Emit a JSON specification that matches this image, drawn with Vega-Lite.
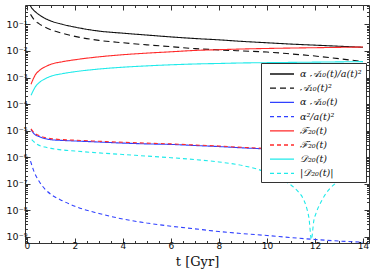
{
  "$schema": "https://vega.github.io/schema/vega-lite/v6.json",
  "width": 344,
  "height": 238,
  "autosize": {"type": "none"},
  "padding": {"left": 25, "top": 5, "right": 5, "bottom": 33},
  "config": {
    "view": {"stroke": "#333333", "strokeWidth": 1},
    "axis": {"grid": false, "domain": false, "tickColor": "#333333", "labelFont": "DejaVu Sans", "labelFontSize": 9, "labelColor": "#111111"},
    "legend": {
      "title": null,
      "fillColor": "white",
      "strokeColor": "#333333",
      "padding": 4,
      "symbolType": "M-2,0H2",
      "symbolSize": 144,
      "symbolOffset": 10,
      "labelOffset": 11,
      "symbolStrokeWidth": 1.3,
      "labelFont": "DejaVu Serif",
      "labelFontSize": 9.6,
      "labelFontStyle": "italic",
      "labelColor": "#111111",
      "rowPadding": 2.2
    }
  },
  "data": {"values": [
    {"t": 0.1, "v": 6.03e-1, "s": "α 𝒜₁₀(t)/a(t)²"},
    {"t": 0.2, "v": 4.17e-1, "s": "α 𝒜₁₀(t)/a(t)²"},
    {"t": 0.3, "v": 3.31e-1, "s": "α 𝒜₁₀(t)/a(t)²"},
    {"t": 0.5, "v": 2.34e-1, "s": "α 𝒜₁₀(t)/a(t)²"},
    {"t": 0.75, "v": 1.70e-1, "s": "α 𝒜₁₀(t)/a(t)²"},
    {"t": 1, "v": 1.35e-1, "s": "α 𝒜₁₀(t)/a(t)²"},
    {"t": 1.5, "v": 1.0e-1, "s": "α 𝒜₁₀(t)/a(t)²"},
    {"t": 2, "v": 7.94e-2, "s": "α 𝒜₁₀(t)/a(t)²"},
    {"t": 3, "v": 5.62e-2, "s": "α 𝒜₁₀(t)/a(t)²"},
    {"t": 4, "v": 4.68e-2, "s": "α 𝒜₁₀(t)/a(t)²"},
    {"t": 5, "v": 3.98e-2, "s": "α 𝒜₁₀(t)/a(t)²"},
    {"t": 6, "v": 3.39e-2, "s": "α 𝒜₁₀(t)/a(t)²"},
    {"t": 7, "v": 2.95e-2, "s": "α 𝒜₁₀(t)/a(t)²"},
    {"t": 8, "v": 2.63e-2, "s": "α 𝒜₁₀(t)/a(t)²"},
    {"t": 9, "v": 2.29e-2, "s": "α 𝒜₁₀(t)/a(t)²"},
    {"t": 10, "v": 2.04e-2, "s": "α 𝒜₁₀(t)/a(t)²"},
    {"t": 11, "v": 1.82e-2, "s": "α 𝒜₁₀(t)/a(t)²"},
    {"t": 12, "v": 1.66e-2, "s": "α 𝒜₁₀(t)/a(t)²"},
    {"t": 13, "v": 1.51e-2, "s": "α 𝒜₁₀(t)/a(t)²"},
    {"t": 14, "v": 1.38e-2, "s": "α 𝒜₁₀(t)/a(t)²"},

    {"t": 0.15, "v": 2.40e-1, "s": "𝒜̇₁₀(t)²"},
    {"t": 0.3, "v": 1.51e-1, "s": "𝒜̇₁₀(t)²"},
    {"t": 0.5, "v": 1.07e-1, "s": "𝒜̇₁₀(t)²"},
    {"t": 0.75, "v": 7.94e-2, "s": "𝒜̇₁₀(t)²"},
    {"t": 1, "v": 6.31e-2, "s": "𝒜̇₁₀(t)²"},
    {"t": 1.5, "v": 4.57e-2, "s": "𝒜̇₁₀(t)²"},
    {"t": 2, "v": 3.55e-2, "s": "𝒜̇₁₀(t)²"},
    {"t": 3, "v": 2.51e-2, "s": "𝒜̇₁₀(t)²"},
    {"t": 4, "v": 2.04e-2, "s": "𝒜̇₁₀(t)²"},
    {"t": 5, "v": 1.70e-2, "s": "𝒜̇₁₀(t)²"},
    {"t": 6, "v": 1.45e-2, "s": "𝒜̇₁₀(t)²"},
    {"t": 7, "v": 1.23e-2, "s": "𝒜̇₁₀(t)²"},
    {"t": 8, "v": 1.10e-2, "s": "𝒜̇₁₀(t)²"},
    {"t": 9, "v": 1.0e-2, "s": "𝒜̇₁₀(t)²"},
    {"t": 10, "v": 9.12e-3, "s": "𝒜̇₁₀(t)²"},
    {"t": 11, "v": 7.76e-3, "s": "𝒜̇₁₀(t)²"},
    {"t": 12, "v": 6.46e-3, "s": "𝒜̇₁₀(t)²"},
    {"t": 13, "v": 5.13e-3, "s": "𝒜̇₁₀(t)²"},
    {"t": 14, "v": 3.98e-3, "s": "𝒜̇₁₀(t)²"},

    {"t": 0.17, "v": 1.10e-5, "s": "α 𝒜̇₁₀(t)"},
    {"t": 0.3, "v": 7.59e-6, "s": "α 𝒜̇₁₀(t)"},
    {"t": 0.5, "v": 6.03e-6, "s": "α 𝒜̇₁₀(t)"},
    {"t": 0.75, "v": 5.01e-6, "s": "α 𝒜̇₁₀(t)"},
    {"t": 1, "v": 4.57e-6, "s": "α 𝒜̇₁₀(t)"},
    {"t": 1.5, "v": 4.27e-6, "s": "α 𝒜̇₁₀(t)"},
    {"t": 2, "v": 4.07e-6, "s": "α 𝒜̇₁₀(t)"},
    {"t": 3, "v": 3.72e-6, "s": "α 𝒜̇₁₀(t)"},
    {"t": 4, "v": 3.39e-6, "s": "α 𝒜̇₁₀(t)"},
    {"t": 5, "v": 3.16e-6, "s": "α 𝒜̇₁₀(t)"},
    {"t": 6, "v": 3.02e-6, "s": "α 𝒜̇₁₀(t)"},
    {"t": 7, "v": 2.75e-6, "s": "α 𝒜̇₁₀(t)"},
    {"t": 8, "v": 2.51e-6, "s": "α 𝒜̇₁₀(t)"},
    {"t": 9, "v": 2.24e-6, "s": "α 𝒜̇₁₀(t)"},
    {"t": 10, "v": 2.04e-6, "s": "α 𝒜̇₁₀(t)"},
    {"t": 11, "v": 1.86e-6, "s": "α 𝒜̇₁₀(t)"},
    {"t": 12, "v": 1.70e-6, "s": "α 𝒜̇₁₀(t)"},
    {"t": 13, "v": 1.55e-6, "s": "α 𝒜̇₁₀(t)"},
    {"t": 14, "v": 1.41e-6, "s": "α 𝒜̇₁₀(t)"},

    {"t": 0.15, "v": 7.08e-7, "s": "α²/a(t)²"},
    {"t": 0.3, "v": 2.82e-7, "s": "α²/a(t)²"},
    {"t": 0.5, "v": 1.26e-7, "s": "α²/a(t)²"},
    {"t": 0.75, "v": 6.31e-8, "s": "α²/a(t)²"},
    {"t": 1, "v": 3.98e-8, "s": "α²/a(t)²"},
    {"t": 1.5, "v": 2.24e-8, "s": "α²/a(t)²"},
    {"t": 2, "v": 1.41e-8, "s": "α²/a(t)²"},
    {"t": 3, "v": 7.59e-9, "s": "α²/a(t)²"},
    {"t": 4, "v": 4.68e-9, "s": "α²/a(t)²"},
    {"t": 5, "v": 3.31e-9, "s": "α²/a(t)²"},
    {"t": 6, "v": 2.51e-9, "s": "α²/a(t)²"},
    {"t": 7, "v": 2.0e-9, "s": "α²/a(t)²"},
    {"t": 8, "v": 1.58e-9, "s": "α²/a(t)²"},
    {"t": 9, "v": 1.32e-9, "s": "α²/a(t)²"},
    {"t": 10, "v": 1.12e-9, "s": "α²/a(t)²"},
    {"t": 11, "v": 9.33e-10, "s": "α²/a(t)²"},
    {"t": 12, "v": 7.94e-10, "s": "α²/a(t)²"},
    {"t": 13, "v": 6.92e-10, "s": "α²/a(t)²"},
    {"t": 14, "v": 6.31e-10, "s": "α²/a(t)²"},

    {"t": 0.17, "v": 5.62e-4, "s": "ℱ₂₀(t)"},
    {"t": 0.25, "v": 8.32e-4, "s": "ℱ₂₀(t)"},
    {"t": 0.35, "v": 1.26e-3, "s": "ℱ₂₀(t)"},
    {"t": 0.5, "v": 1.78e-3, "s": "ℱ₂₀(t)"},
    {"t": 0.75, "v": 2.51e-3, "s": "ℱ₂₀(t)"},
    {"t": 1, "v": 3.16e-3, "s": "ℱ₂₀(t)"},
    {"t": 1.5, "v": 3.98e-3, "s": "ℱ₂₀(t)"},
    {"t": 2, "v": 4.68e-3, "s": "ℱ₂₀(t)"},
    {"t": 3, "v": 6.03e-3, "s": "ℱ₂₀(t)"},
    {"t": 4, "v": 7.24e-3, "s": "ℱ₂₀(t)"},
    {"t": 5, "v": 8.32e-3, "s": "ℱ₂₀(t)"},
    {"t": 6, "v": 9.33e-3, "s": "ℱ₂₀(t)"},
    {"t": 7, "v": 1.05e-2, "s": "ℱ₂₀(t)"},
    {"t": 8, "v": 1.12e-2, "s": "ℱ₂₀(t)"},
    {"t": 9, "v": 1.19e-2, "s": "ℱ₂₀(t)"},
    {"t": 10, "v": 1.245e-2, "s": "ℱ₂₀(t)"},
    {"t": 11, "v": 1.29e-2, "s": "ℱ₂₀(t)"},
    {"t": 12, "v": 1.33e-2, "s": "ℱ₂₀(t)"},
    {"t": 13, "v": 1.37e-2, "s": "ℱ₂₀(t)"},
    {"t": 14, "v": 1.41e-2, "s": "ℱ₂₀(t)"},

    {"t": 0.17, "v": 1.17e-5, "s": "ℱ̇₂₀(t)"},
    {"t": 0.3, "v": 8.32e-6, "s": "ℱ̇₂₀(t)"},
    {"t": 0.5, "v": 6.61e-6, "s": "ℱ̇₂₀(t)"},
    {"t": 0.75, "v": 5.50e-6, "s": "ℱ̇₂₀(t)"},
    {"t": 1, "v": 5.01e-6, "s": "ℱ̇₂₀(t)"},
    {"t": 1.5, "v": 4.57e-6, "s": "ℱ̇₂₀(t)"},
    {"t": 2, "v": 4.37e-6, "s": "ℱ̇₂₀(t)"},
    {"t": 3, "v": 3.98e-6, "s": "ℱ̇₂₀(t)"},
    {"t": 4, "v": 3.63e-6, "s": "ℱ̇₂₀(t)"},
    {"t": 5, "v": 3.39e-6, "s": "ℱ̇₂₀(t)"},
    {"t": 6, "v": 3.16e-6, "s": "ℱ̇₂₀(t)"},
    {"t": 7, "v": 2.88e-6, "s": "ℱ̇₂₀(t)"},
    {"t": 8, "v": 2.63e-6, "s": "ℱ̇₂₀(t)"},
    {"t": 9, "v": 2.34e-6, "s": "ℱ̇₂₀(t)"},
    {"t": 10, "v": 2.14e-6, "s": "ℱ̇₂₀(t)"},
    {"t": 11, "v": 1.95e-6, "s": "ℱ̇₂₀(t)"},
    {"t": 12, "v": 1.78e-6, "s": "ℱ̇₂₀(t)"},
    {"t": 13, "v": 1.62e-6, "s": "ℱ̇₂₀(t)"},
    {"t": 14, "v": 1.48e-6, "s": "ℱ̇₂₀(t)"},

    {"t": 0.17, "v": 2.14e-4, "s": "𝒟₂₀(t)"},
    {"t": 0.25, "v": 3.02e-4, "s": "𝒟₂₀(t)"},
    {"t": 0.35, "v": 4.47e-4, "s": "𝒟₂₀(t)"},
    {"t": 0.5, "v": 6.31e-4, "s": "𝒟₂₀(t)"},
    {"t": 0.75, "v": 8.91e-4, "s": "𝒟₂₀(t)"},
    {"t": 1, "v": 1.12e-3, "s": "𝒟₂₀(t)"},
    {"t": 1.5, "v": 1.41e-3, "s": "𝒟₂₀(t)"},
    {"t": 2, "v": 1.66e-3, "s": "𝒟₂₀(t)"},
    {"t": 3, "v": 2.09e-3, "s": "𝒟₂₀(t)"},
    {"t": 4, "v": 2.45e-3, "s": "𝒟₂₀(t)"},
    {"t": 5, "v": 2.75e-3, "s": "𝒟₂₀(t)"},
    {"t": 6, "v": 3.02e-3, "s": "𝒟₂₀(t)"},
    {"t": 7, "v": 3.24e-3, "s": "𝒟₂₀(t)"},
    {"t": 8, "v": 3.39e-3, "s": "𝒟₂₀(t)"},
    {"t": 9, "v": 3.55e-3, "s": "𝒟₂₀(t)"},
    {"t": 10, "v": 3.63e-3, "s": "𝒟₂₀(t)"},
    {"t": 11, "v": 3.72e-3, "s": "𝒟₂₀(t)"},
    {"t": 12, "v": 3.80e-3, "s": "𝒟₂₀(t)"},
    {"t": 13, "v": 3.89e-3, "s": "𝒟₂₀(t)"},
    {"t": 14, "v": 3.98e-3, "s": "𝒟₂₀(t)"},

    {"t": 0.2, "v": 4.57e-6, "s": "|𝒟̇₂₀(t)|"},
    {"t": 0.4, "v": 3.16e-6, "s": "|𝒟̇₂₀(t)|"},
    {"t": 0.75, "v": 2.40e-6, "s": "|𝒟̇₂₀(t)|"},
    {"t": 1, "v": 2.14e-6, "s": "|𝒟̇₂₀(t)|"},
    {"t": 1.5, "v": 1.86e-6, "s": "|𝒟̇₂₀(t)|"},
    {"t": 2, "v": 1.70e-6, "s": "|𝒟̇₂₀(t)|"},
    {"t": 3, "v": 1.45e-6, "s": "|𝒟̇₂₀(t)|"},
    {"t": 4, "v": 1.26e-6, "s": "|𝒟̇₂₀(t)|"},
    {"t": 5, "v": 1.10e-6, "s": "|𝒟̇₂₀(t)|"},
    {"t": 6, "v": 9.55e-7, "s": "|𝒟̇₂₀(t)|"},
    {"t": 7, "v": 8.13e-7, "s": "|𝒟̇₂₀(t)|"},
    {"t": 8, "v": 6.61e-7, "s": "|𝒟̇₂₀(t)|"},
    {"t": 9, "v": 4.79e-7, "s": "|𝒟̇₂₀(t)|"},
    {"t": 9.6, "v": 3.55e-7, "s": "|𝒟̇₂₀(t)|"},
    {"t": 10.1, "v": 2.40e-7, "s": "|𝒟̇₂₀(t)|"},
    {"t": 10.6, "v": 1.41e-7, "s": "|𝒟̇₂₀(t)|"},
    {"t": 11.0, "v": 8.91e-8, "s": "|𝒟̇₂₀(t)|"},
    {"t": 11.3, "v": 5.01e-8, "s": "|𝒟̇₂₀(t)|"},
    {"t": 11.5, "v": 2.82e-8, "s": "|𝒟̇₂₀(t)|"},
    {"t": 11.65, "v": 1.26e-8, "s": "|𝒟̇₂₀(t)|"},
    {"t": 11.75, "v": 5.01e-9, "s": "|𝒟̇₂₀(t)|"},
    {"t": 11.85, "v": 7.94e-10, "s": "|𝒟̇₂₀(t)|"},
    {"t": 11.95, "v": 3.98e-9, "s": "|𝒟̇₂₀(t)|"},
    {"t": 12.05, "v": 7.94e-9, "s": "|𝒟̇₂₀(t)|"},
    {"t": 12.3, "v": 2.51e-8, "s": "|𝒟̇₂₀(t)|"},
    {"t": 12.6, "v": 6.31e-8, "s": "|𝒟̇₂₀(t)|"},
    {"t": 13.0, "v": 1.26e-7, "s": "|𝒟̇₂₀(t)|"},
    {"t": 13.5, "v": 2.0e-7, "s": "|𝒟̇₂₀(t)|"},
    {"t": 14, "v": 2.82e-7, "s": "|𝒟̇₂₀(t)|"}
  ]},
  "resolve": {"axis": {"x": "independent", "y": "independent"}},
  "layer": [
    {
      "mark": {"type": "line", "clip": true, "strokeWidth": 1.1, "interpolate": "monotone"},
      "encoding": {
        "x": {
          "field": "t", "type": "quantitative",
          "scale": {"domain": [-0.08, 14.25], "nice": false, "zero": false},
          "axis": {
            "orient": "bottom",
            "values": [0,0.5,1,1.5,2,2.5,3,3.5,4,4.5,5,5.5,6,6.5,7,7.5,8,8.5,9,9.5,10,10.5,11,11.5,12,12.5,13,13.5,14],
            "labelExpr": "datum.value % 2 == 0 ? format(datum.value, 'd') : ''",
            "labelOverlap": false,
            "tickSize": {"condition": {"test": "datum.value % 2 == 0", "value": -5}, "value": -2.5},
            "labelPadding": 3,
            "title": "t [Gyr]",
            "titleFont": "DejaVu Serif",
            "titleFontSize": 13,
            "titleFontWeight": "normal",
            "titleColor": "#111111",
            "titlePadding": 3
          }
        },
        "y": {
          "field": "v", "type": "quantitative",
          "scale": {"type": "log", "domain": [5.85e-10, 0.54], "nice": false},
          "axis": {
            "orient": "left",
            "values": [6e-10,7e-10,8e-10,9e-10,1e-9,2e-9,3e-9,4e-9,5e-9,6e-9,7e-9,8e-9,9e-9,1e-8,2e-8,3e-8,4e-8,5e-8,6e-8,7e-8,8e-8,9e-8,1e-7,2e-7,3e-7,4e-7,5e-7,6e-7,7e-7,8e-7,9e-7,1e-6,2e-6,3e-6,4e-6,5e-6,6e-6,7e-6,8e-6,9e-6,1e-5,2e-5,3e-5,4e-5,5e-5,6e-5,7e-5,8e-5,9e-5,1e-4,2e-4,3e-4,4e-4,5e-4,6e-4,7e-4,8e-4,9e-4,1e-3,2e-3,3e-3,4e-3,5e-3,6e-3,7e-3,8e-3,9e-3,1e-2,2e-2,3e-2,4e-2,5e-2,6e-2,7e-2,8e-2,9e-2,1e-1,2e-1,3e-1,4e-1,5e-1],
            "labelExpr": "abs(log(datum.value)/LN10 - round(log(datum.value)/LN10)) < 0.01 ? '10' + ['⁰','⁻¹','⁻²','⁻³','⁻⁴','⁻⁵','⁻⁶','⁻⁷','⁻⁸','⁻⁹'][round(-log(datum.value)/LN10)] : ''",
            "labelOverlap": false,
            "labelFontSize": 9.5,
            "tickSize": {"condition": {"test": "abs(log(datum.value)/LN10 - round(log(datum.value)/LN10)) < 0.01", "value": -5}, "value": -2.5},
            "labelPadding": 3,
            "title": null
          }
        },
        "color": {
          "field": "s", "type": "nominal",
          "scale": {
            "domain": ["α 𝒜₁₀(t)/a(t)²", "𝒜̇₁₀(t)²", "α 𝒜̇₁₀(t)", "α²/a(t)²", "ℱ₂₀(t)", "ℱ̇₂₀(t)", "𝒟₂₀(t)", "|𝒟̇₂₀(t)|"],
            "range": ["#111111", "#111111", "#3040ff", "#3040ff", "#ff2a2a", "#ff2a2a", "#20eaea", "#20eaea"]
          },
          "legend": {"orient": "none", "legendX": 236, "legendY": 58}
        },
        "strokeDash": {
          "field": "s", "type": "nominal",
          "scale": {
            "domain": ["α 𝒜₁₀(t)/a(t)²", "𝒜̇₁₀(t)²", "α 𝒜̇₁₀(t)", "α²/a(t)²", "ℱ₂₀(t)", "ℱ̇₂₀(t)", "𝒟₂₀(t)", "|𝒟̇₂₀(t)|"],
            "range": [[1,0], [6,4], [1,0], [4,3], [1,0], [4,3], [1,0], [4,3]]
          },
          "legend": {"orient": "none", "legendX": 236, "legendY": 58}
        }
      }
    },
    {
      "mark": {"type": "point", "opacity": 0},
      "encoding": {
        "x": {
          "field": "t", "type": "quantitative",
          "axis": {
            "orient": "top",
            "values": [0,0.5,1,1.5,2,2.5,3,3.5,4,4.5,5,5.5,6,6.5,7,7.5,8,8.5,9,9.5,10,10.5,11,11.5,12,12.5,13,13.5,14],
            "labels": false,
            "tickSize": {"condition": {"test": "datum.value % 2 == 0", "value": -5}, "value": -2.5},
            "title": null
          }
        },
        "y": {
          "field": "v", "type": "quantitative",
          "axis": {
            "orient": "right",
            "values": [6e-10,7e-10,8e-10,9e-10,1e-9,2e-9,3e-9,4e-9,5e-9,6e-9,7e-9,8e-9,9e-9,1e-8,2e-8,3e-8,4e-8,5e-8,6e-8,7e-8,8e-8,9e-8,1e-7,2e-7,3e-7,4e-7,5e-7,6e-7,7e-7,8e-7,9e-7,1e-6,2e-6,3e-6,4e-6,5e-6,6e-6,7e-6,8e-6,9e-6,1e-5,2e-5,3e-5,4e-5,5e-5,6e-5,7e-5,8e-5,9e-5,1e-4,2e-4,3e-4,4e-4,5e-4,6e-4,7e-4,8e-4,9e-4,1e-3,2e-3,3e-3,4e-3,5e-3,6e-3,7e-3,8e-3,9e-3,1e-2,2e-2,3e-2,4e-2,5e-2,6e-2,7e-2,8e-2,9e-2,1e-1,2e-1,3e-1,4e-1,5e-1],
            "labels": false,
            "tickSize": {"condition": {"test": "abs(log(datum.value)/LN10 - round(log(datum.value)/LN10)) < 0.01", "value": -5}, "value": -2.5},
            "title": null
          }
        }
      }
    }
  ]
}
